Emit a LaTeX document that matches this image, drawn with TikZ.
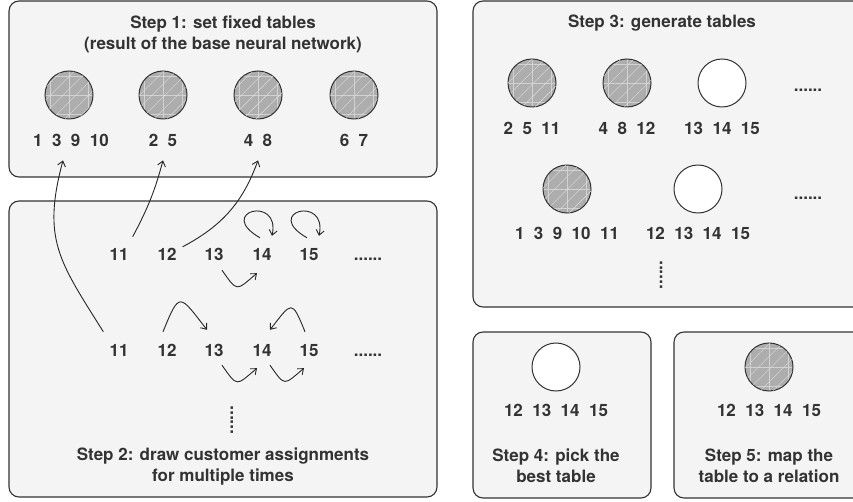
\documentclass[tikz,border=0pt]{standalone}
\usepackage{fontspec}
\setmainfont{TeX Gyre Heros}
\usepackage{tikz}
\usetikzlibrary{arrows.meta,positioning,patterns.meta}
\definecolor{InkGray}{HTML}{333333}
\definecolor{PanelGray}{HTML}{F4F4F4}
\definecolor{TableGray}{HTML}{ADADAD}

\begin{document}
\begin{tikzpicture}[
  x=1pt,y=-1pt,
  every node/.style={text=InkGray,font=\fontsize{17}{21}\selectfont\bfseries},
  panel/.style={draw=InkGray,line width=1.1pt,rounded corners=10pt,fill=PanelGray},
  title/.style={align=center,inner sep=0pt},
  num/.style={inner sep=2pt,text height=12pt,text depth=0pt},
  fulltab/.style={circle,draw=InkGray,line width=1pt,fill=TableGray,minimum size=48pt,inner sep=0pt,
    path picture={\draw[white!45!TableGray,line width=0.4pt] (path picture bounding box.south west) grid[step=19pt] (path picture bounding box.north east);},
    postaction={pattern={Lines[angle=45,distance=9pt,line width=0.4pt]},pattern color=white!60!TableGray}},
  emptytab/.style={circle,draw=InkGray,line width=1pt,fill=white,minimum size=48pt,inner sep=0pt},
  vdots/.style={rotate=90,inner sep=0pt},
  arr/.style={-{Straight Barb[length=5pt,width=8pt]},line width=0.9pt,draw=black!85}
]
\useasboundingbox (0,0) rectangle (853,502);
\clip (0,0) rectangle (853,502);

% panels
\draw[panel] (9,1) rectangle (437,177);
\draw[panel] (9,201) rectangle (437,497);
\draw[panel] (473,1) rectangle (875,307);
\draw[panel] (473,332) rectangle (651,498);
\draw[panel] (674,332) rectangle (875,498);

% step 1
\node[title] (t1) at (223,34) {Step 1: set fixed tables\\(result of the base neural network)};
\node[fulltab] (c1) at (69,95) {};
\node[fulltab] (c2) at (163,95) {};
\node[fulltab] (c3) at (258,95) {};
\node[fulltab] (c4) at (354,95) {};
\node[num,below=12.5pt of c1,xshift=2pt] (l1) {1~~3~~9~~10};
\node[num,below=12.5pt of c2] (l2) {2~~5};
\node[num,below=12.5pt of c3] (l3) {4~~8};
\node[num,below=12.5pt of c4] (l4) {6~~7};

% step 2
\node[num] (r1a) at (119,255) {11};
\node[num] (r1b) at (167,255) {12};
\node[num] (r1c) at (214,255) {13};
\node[num] (r1d) at (262,255) {14};
\node[num] (r1e) at (309,255) {15};
\node[num] (r1f) at (368,255) {......};
\node[num] (r2a) at (119,350) {11};
\node[num] (r2b) at (167,350) {12};
\node[num] (r2c) at (214,350) {13};
\node[num] (r2d) at (262,350) {14};
\node[num] (r2e) at (309,350) {15};
\node[num] (r2f) at (368,350) {......};
\node[vdots] (v2) at (232,420) {......};
\node[title] (t2) at (223,467) {Step 2: draw customer assignments\\for multiple times};

\draw[arr] ([shift={(-4,-10)}]r2a.north west) to[out=122,in=-105,looseness=1.2] ([shift={(-8,12)}]l1.south);
\draw[arr] ([shift={(2,-10)}]r1a.north east) to[out=62,in=-105] ([shift={(0,12)}]l2.south);
\draw[arr] ([shift={(4,0)}]r1b.north east) to[out=28,in=-110] ([shift={(0,12)}]l3.south);
\draw[arr] ([shift={(-2,-9)}]r1d.north) to[out=150,in=78,out distance=52pt,in distance=42pt] ([shift={(10,-11)}]r1d.north);
\draw[arr] ([shift={(-2,-9)}]r1e.north) to[out=150,in=78,out distance=52pt,in distance=42pt] ([shift={(10,-11)}]r1e.north);
\draw[arr] ([shift={(8,7)}]r1c.south) to[out=-55,in=-140,looseness=2] ([shift={(-5,10)}]r1d.south);
\draw[arr] ([shift={(-4,-10)}]r2b.north) to[out=68,in=128,looseness=2.6] ([shift={(-7,-12)}]r2c.north);
\draw[arr] ([shift={(-4,-10)}]r2e.north) to[out=112,in=52,looseness=2.6] ([shift={(8,-12)}]r2d.north);
\draw[arr] ([shift={(8,7)}]r2c.south) to[out=-55,in=-140,looseness=2] ([shift={(-5,10)}]r2d.south);
\draw[arr] ([shift={(8,7)}]r2d.south) to[out=-55,in=-140,looseness=2] ([shift={(-5,10)}]r2e.south);

% step 3
\node[title] (t3) at (662,23) {Step 3: generate tables};
\node[fulltab] (g1) at (532,83) {};
\node[fulltab] (g2) at (627,83) {};
\node[emptytab] (g3) at (722,83) {};
\node[num] (gd1) at (808,86) {......};
\node[num,below=12.5pt of g1] (m1) {2~~5~~11};
\node[num,below=12.5pt of g2] (m2) {4~~8~~12};
\node[num,below=12.5pt of g3] (m3) {13~~14~~15};
\node[fulltab] (g4) at (567,189) {};
\node[emptytab] (g5) at (698,189) {};
\node[num] (gd2) at (808,194) {......};
\node[num,below=11.5pt of g4] (m4) {1~~3~~9~~10~~11};
\node[num,below=11.5pt of g5] (m5) {12~~13~~14~~15};
\node[vdots] (v3) at (661,275) {......};

% step 4
\node[emptytab] (b1) at (556,367) {};
\node[num,below=10.5pt of b1] (n1) {12~~13~~14~~15};
\node[title] (t4) at (556,466) {Step 4: pick the\\best table};

% step 5
\node[fulltab] (b2) at (769,367) {};
\node[num,below=10.5pt of b2] (n2) {12~~13~~14~~15};
\node[title] (t5) at (769,466) {Step 5: map the\\table to a relation};
\end{tikzpicture}
\end{document}
